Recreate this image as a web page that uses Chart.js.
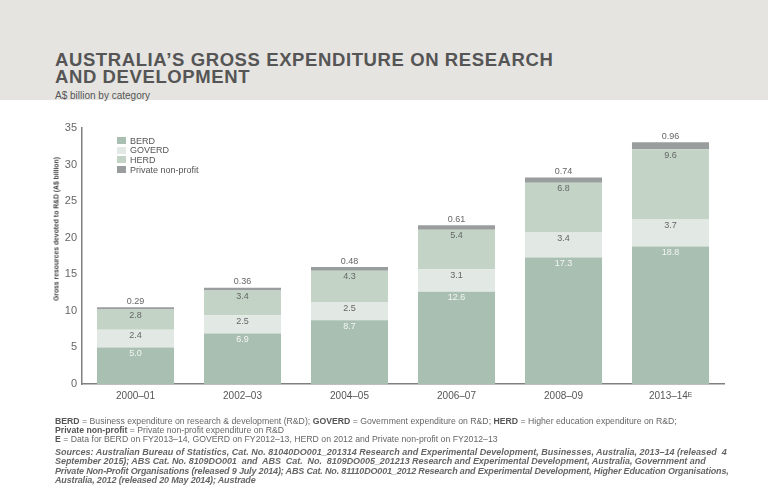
<!DOCTYPE html>
<html>
<head>
<meta charset="utf-8">
<script src="https://cdn.jsdelivr.net/npm/chart.js@4"></script>
<style>
  body { margin: 0; width: 768px; height: 492px; position: relative; overflow: hidden; background: #fff;
         font-family: 'Liberation Sans', Arial, sans-serif; color: #555; }
  #band { position: absolute; left: 0; top: 0; width: 768px; height: 100px; background: #e5e4e1; }
  #title { position: absolute; left: 55px; top: 50.5px; font-weight: bold; font-size: 18.5px; letter-spacing: 0.6px; line-height: 17px; color: #555; white-space: nowrap; }
  #subtitle { position: absolute; left: 55px; top: 89.5px; font-size: 10px; color: #555; }
  #myChart { position: absolute; left: 0; top: 0; }
  #ytitle { position: absolute; left: 56px; top: 229px; transform: translate(-50%, -50%) rotate(-90deg);
            font-family: 'Liberation Sans Narrow', 'Liberation Sans', Arial, sans-serif; font-weight: bold; font-size: 6.8px; color: #444; white-space: nowrap; }
  #legend { position: absolute; left: 117px; top: 136.5px; font-size: 9px; color: #555; }
  #legend div { height: 9.7px; line-height: 9.7px; white-space: nowrap; }
  #legend span { display: inline-block; width: 9px; height: 7px; margin-right: 4px; vertical-align: -0.5px; }
  .foot { position: absolute; left: 55px; font-size: 8.7px; color: #666; white-space: nowrap; }
  .foot b { color: #555; }
  #notes { top: 416.5px; line-height: 9.3px; }
  #enote { top: 435px; line-height: 9.3px; }
  #sources { top: 447.5px; line-height: 9.5px; font-size: 9px; font-weight: bold; font-style: italic; color: #666; }
</style>
</head>
<body>
<div id="band"></div>
<div id="title">AUSTRALIA’S GROSS EXPENDITURE ON RESEARCH<br>AND DEVELOPMENT</div>
<div id="subtitle">A$ billion by category</div>
<canvas id="myChart" width="768" height="492"></canvas>
<div id="ytitle">Gross resources devoted to R&amp;D (A$ billion)</div>
<div id="legend"></div>
<div class="foot" id="notes"><b>BERD</b> = Business expenditure on research &amp; development (R&amp;D); <b>GOVERD</b> = Government expenditure on R&amp;D; <b>HERD</b> = Higher education expenditure on R&amp;D;<br><b>Private non-profit</b> = Private non-profit expenditure on R&amp;D</div>
<div class="foot" id="enote"><b>E</b> = Data for BERD on FY2013–14, GOVERD on FY2012–13, HERD on 2012 and Private non-profit on FY2012–13</div>
<div class="foot" id="sources">Sources: Australian Bureau of Statistics, Cat. No. 81040DO001_201314 Research and Experimental Development, Businesses, Australia, 2013–14 (released&nbsp; 4<br><span style="letter-spacing:-0.05px">September 2015); ABS Cat. No. 8109DO001&nbsp; and&nbsp; ABS&nbsp; Cat.&nbsp; No.&nbsp; 8109DO005_201213 Research and Experimental Development, Australia, Government and</span><br><span style="letter-spacing:-0.17px">Private Non-Profit Organisations (released 9 July 2014); ABS Cat. No. 81110DO001_2012 Research and Experimental Development, Higher Education Organisations,</span><br><span style="letter-spacing:-0.15px">Australia, 2012 (released 20 May 2014); Austrade</span></div>

<script>
const categories = ['2000–01', '2002–03', '2004–05', '2006–07', '2008–09', '2013–14ᴱ'];
const berd = [5.0, 6.9, 8.7, 12.6, 17.3, 18.8];
const goverd = [2.4, 2.5, 2.5, 3.1, 3.4, 3.7];
const herd = [2.8, 3.4, 4.3, 5.4, 6.8, 9.6];
const privateNonProfit = [0.29, 0.36, 0.48, 0.61, 0.74, 0.96];
const seriesNames = ['BERD', 'GOVERD', 'HERD', 'Private non-profit'];
const seriesColors = ['#a9bfb2', '#e2e8e3', '#c3d4c7', '#9a9d9e'];
const labelColors = ['#f4f6f4', '#666', '#666', '#666'];
const yMax = 35;
const yStep = 5;

const segmentLabels = {
    id: 'segmentLabels',
    afterDatasetsDraw(chart) {
        const ctx = chart.ctx;
        ctx.save();
        ctx.font = '9px "Liberation Sans", Arial, sans-serif';
        ctx.textAlign = 'center';
        ctx.textBaseline = 'middle';
        chart.data.datasets.forEach((ds, i) => {
            const meta = chart.getDatasetMeta(i);
            meta.data.forEach((bar, j) => {
                const v = ds.data[j];
                ctx.fillStyle = labelColors[i];
                if (i === 3) {
                    ctx.fillText(v.toFixed(2), bar.x, bar.y - 6);
                } else {
                    ctx.fillText(v.toFixed(1), bar.x, bar.y + 6);
                }
            });
        });
        ctx.restore();
    }
};

const allSeries = [berd, goverd, herd, privateNonProfit];

const chart = new Chart(document.getElementById('myChart'), {
    type: 'bar',
    data: {
        labels: categories,
        datasets: allSeries.map((vals, i) => ({
            label: seriesNames[i],
            data: vals,
            backgroundColor: seriesColors[i],
            borderWidth: 0,
            categoryPercentage: 1,
            barPercentage: 0.72
        }))
    },
    options: {
        responsive: false,
        animation: false,
        devicePixelRatio: 1,
        layout: { padding: { top: 128, right: 44, bottom: 0, left: 0 } },
        plugins: { legend: { display: false }, tooltip: { enabled: false } },
        scales: {
            x: {
                stacked: true,
                grid: { display: false, drawTicks: false },
                border: { color: '#808080', width: 1.5 },
                ticks: { color: '#555', font: { size: 10, family: '"Liberation Sans", Arial, sans-serif' }, padding: 6 },
                afterFit(scale) { scale.height = 108; }
            },
            y: {
                stacked: true,
                min: 0,
                max: yMax,
                grid: { display: false, drawTicks: false },
                border: { color: '#808080', width: 1.5 },
                ticks: { stepSize: yStep, color: '#666', font: { size: 11, family: '"Liberation Sans", Arial, sans-serif' }, padding: 5 },
                afterFit(scale) { scale.width = 82; }
            }
        }
    },
    plugins: [segmentLabels]
});

// legend from the datasets
const legend = document.getElementById('legend');
chart.data.datasets.forEach(ds => {
    const row = document.createElement('div');
    row.innerHTML = '<span style="background:' + ds.backgroundColor + '"></span>' + ds.label;
    legend.appendChild(row);
});
</script>
</body>
</html>
